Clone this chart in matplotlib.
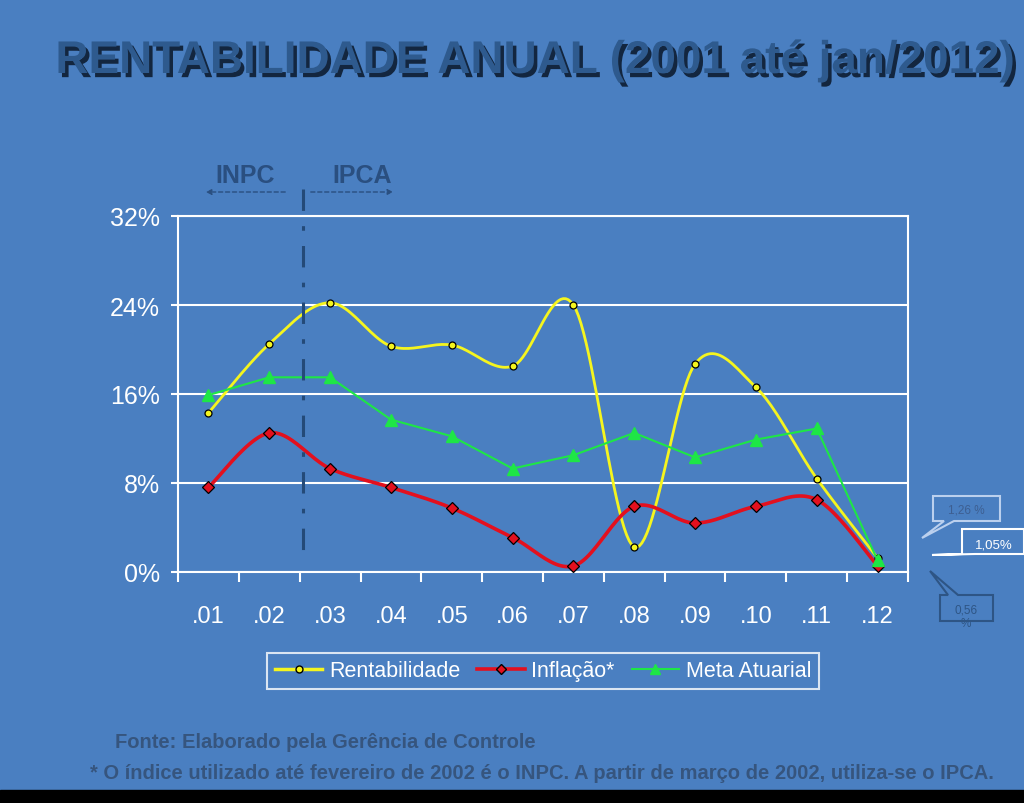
import numpy as np
import matplotlib
matplotlib.use("Agg")
import matplotlib.pyplot as plt
from matplotlib.patches import Polygon, FancyArrowPatch
from matplotlib.lines import Line2D
from matplotlib import patheffects

# ---------------- data ----------------
categories = [".01", ".02", ".03", ".04", ".05", ".06", ".07", ".08", ".09", ".10", ".11", ".12"]
rentabilidade = [14.3, 20.5, 24.2, 20.3, 20.4, 18.5, 24.0, 2.25, 18.7, 16.6, 8.4, 1.26]
inflacao = [7.6, 12.5, 9.3, 7.6, 5.75, 3.1, 0.55, 5.9, 4.4, 5.9, 6.5, 0.56]
meta_atuarial = [15.9, 17.5, 17.5, 13.7, 12.2, 9.3, 10.5, 12.5, 10.3, 11.9, 12.9, 1.05]
yticks = [0, 8, 16, 24, 32]
ytick_labels = ["0%", "8%", "16%", "24%", "32%"]
series_names = ["Rentabilidade", "Inflação*", "Meta Atuarial"]
callout_texts = ["1,26 %", "1,05%", "0,56\n%"]

BG = "#4A7FC1"
SANS = "Liberation Sans"

def smooth(y, n=24):
    y = np.asarray(y, dtype=float)
    x = np.arange(len(y), dtype=float)
    xp = np.concatenate([[x[0]], x, [x[-1]]])
    yp = np.concatenate([[y[0]], y, [y[-1]]])
    xs, ys = [], []
    for i in range(len(y) - 1):
        p0, p1, p2, p3 = yp[i], yp[i + 1], yp[i + 2], yp[i + 3]
        q0, q1, q2, q3 = xp[i], xp[i + 1], xp[i + 2], xp[i + 3]
        t = np.linspace(0, 1, n, endpoint=(i == len(y) - 2))
        c1y = p1 + (p2 - p0) / 6.0
        c2y = p2 - (p3 - p1) / 6.0
        c1x = q1 + (q2 - q0) / 6.0
        c2x = q2 - (q3 - q1) / 6.0
        b = lambda a, b1, b2, c: (1 - t) ** 3 * a + 3 * (1 - t) ** 2 * t * b1 + 3 * (1 - t) * t ** 2 * b2 + t ** 3 * c
        xs.append(b(q1, c1x, c2x, q2))
        ys.append(b(p1, c1y, c2y, p2))
    return np.concatenate(xs), np.concatenate(ys)

W, H = 1024, 804
fig = plt.figure(figsize=(W / 100, H / 100), dpi=100, facecolor=BG)

def fx(px):
    return px / W

def fy(py):
    return 1 - py / H

ax = fig.add_axes([fx(178), fy(573), fx(908) - fx(178), fy(217) - fy(573)])
ax.set_facecolor(BG)
n = len(categories)
ax.set_xlim(-0.5, n - 0.5)
ax.set_ylim(0, 32)
for s in ax.spines.values():
    s.set_color("white")
    s.set_linewidth(1.5)
ax.set_yticks(yticks)
ax.set_yticklabels(ytick_labels)
ax.yaxis.grid(True, color="white", linewidth=1.5)
ax.set_axisbelow(True)
ax.set_xticks(np.arange(n))
ax.set_xticklabels(categories)
ax.set_xticks(np.arange(n + 1) - 0.5, minor=True)
ax.tick_params(axis="x", which="major", length=0, pad=24, labelsize=17, labelcolor="white")
ax.tick_params(axis="x", which="minor", length=7, width=1.5, color="white", direction="out")
ax.tick_params(axis="y", length=5, width=1.5, color="white", labelsize=18, labelcolor="white", pad=8)
for lab in ax.get_xticklabels() + ax.get_yticklabels():
    lab.set_family(SANS)

x = np.arange(n)
sx, sy = smooth(rentabilidade)
ax.plot(sx, sy, color="#F5F51E", lw=2.0, zorder=3)
ax.plot(x, rentabilidade, ls="none", marker="o", ms=5, mfc="#F5F51E", mec="black", mew=0.9, zorder=4)
ix, iy = smooth(inflacao)
ax.plot(ix, iy, color="#E3101E", lw=2.6, zorder=3)
ax.plot(x, inflacao, ls="none", marker="D", ms=6, mfc="#E3101E", mec="black", mew=0.9, zorder=4)
ax.plot(x, meta_atuarial, color="#1EE646", lw=1.5, marker="^", ms=8, mfc="#1EE646", mec="#1EE646", zorder=5)

# vertical dash-dot separator INPC / IPCA
fig.add_artist(Line2D([fx(303), fx(303)], [fy(190), fy(556)], color="#244a78", lw=2.2,
                      ls=(0, (7, 5, 1.5, 5)), transform=fig.transFigure, zorder=6))
fig.text(fx(245), fy(176), "INPC", color="#2A4F80", fontsize=18, fontweight="bold",
         family=SANS, ha="center", va="center")
fig.text(fx(362), fy(176), "IPCA", color="#2A4F80", fontsize=18, fontweight="bold",
         family=SANS, ha="center", va="center")
for (x0, x1) in [(288, 203), (308, 396)]:
    fig.add_artist(FancyArrowPatch((fx(x0), fy(193)), (fx(x1), fy(193)), transform=fig.transFigure,
                                   arrowstyle="-|>", mutation_scale=8, color="#2A4F80", lw=1.0,
                                   linestyle=(0, (3, 2))))

# title with shadow
title = "RENTABILIDADE ANUAL (2001 até jan/2012)"
fig.text(fx(536), fy(62), title, color="#2E5A8E", fontsize=33, fontweight="bold",
         family=SANS, ha="center", va="center",
         path_effects=[patheffects.withSimplePatchShadow(offset=(2.5, -3), shadow_rgbFace="#13263f", alpha=1.0)])

# legend
handles = [
    Line2D([], [], color="#F5F51E", lw=2.5, marker="o", ms=5, mfc="#F5F51E", mec="black"),
    Line2D([], [], color="#E3101E", lw=2.6, marker="D", ms=5, mfc="#E3101E", mec="black"),
    Line2D([], [], color="#1EE646", lw=1.5, marker="^", ms=7, mfc="#1EE646", mec="#1EE646"),
]
leg = fig.legend(handles, series_names, loc="center", bbox_to_anchor=(fx(543), fy(672)), ncol=3,
                 frameon=True, fancybox=False, facecolor=BG, edgecolor="white",
                 handlelength=2.2, handletextpad=0.3, columnspacing=0.8, borderpad=0.35,
                 prop={"family": SANS, "size": 15.5})
leg.get_frame().set_linewidth(1.5)
for t in leg.get_texts():
    t.set_color("white")

# callouts
def callout(box, tip, base, text, ec, tc, fs=8.5, text_xy=None):
    x0, y0, x1, y1 = box
    bx0, bx1 = base
    pts = [(x0, y0), (x1, y0), (x1, y1), (bx1, y1), tip, (bx0, y1), (x0, y1)] if tip[1] > y1 else \
          [(x0, y0), (bx0, y0), tip, (bx1, y0), (x1, y0), (x1, y1), (x0, y1)]
    poly = Polygon([(fx(a), fy(b)) for a, b in pts], closed=True, transform=fig.transFigure,
                   facecolor=BG, edgecolor=ec, lw=1.5, zorder=7)
    fig.add_artist(poly)
    tx, ty = text_xy if text_xy else ((x0 + x1) / 2, (y0 + y1) / 2)
    fig.text(fx(tx), fy(ty), text, color=tc, fontsize=fs, family=SANS, ha="center", va="center", zorder=8)

callout((933, 497, 1000, 522), (922, 539), (944, 954), callout_texts[0], "#BBD0EE", "#3D5F92", text_xy=(966, 511))
callout((962, 530, 1024, 555), (932, 556), (962, 975), callout_texts[1], "white", "white", fs=9.5, text_xy=(994, 546))
callout((940, 596, 993, 622), (930, 572), (948, 958), callout_texts[2], "#2E5585", "#2E5585", text_xy=(966, 617))

# footer
fig.text(fx(115), fy(743), "Fonte: Elaborado pela Gerência de Controle", color="#36557E", fontsize=14.5,
         fontweight="bold", family=SANS, ha="left", va="center")
fig.text(fx(542), fy(774), "* O índice utilizado até fevereiro de 2002 é o INPC. A partir de março de 2002, utiliza-se o IPCA.",
         color="#36557E", fontsize=14.5, fontweight="bold", family=SANS, ha="center", va="center")

# bottom black band
fig.add_artist(plt.Rectangle((0, 0), 1, fy(791), transform=fig.transFigure, color="black", zorder=9))

fig.savefig("out.png", dpi=100, facecolor=BG)
